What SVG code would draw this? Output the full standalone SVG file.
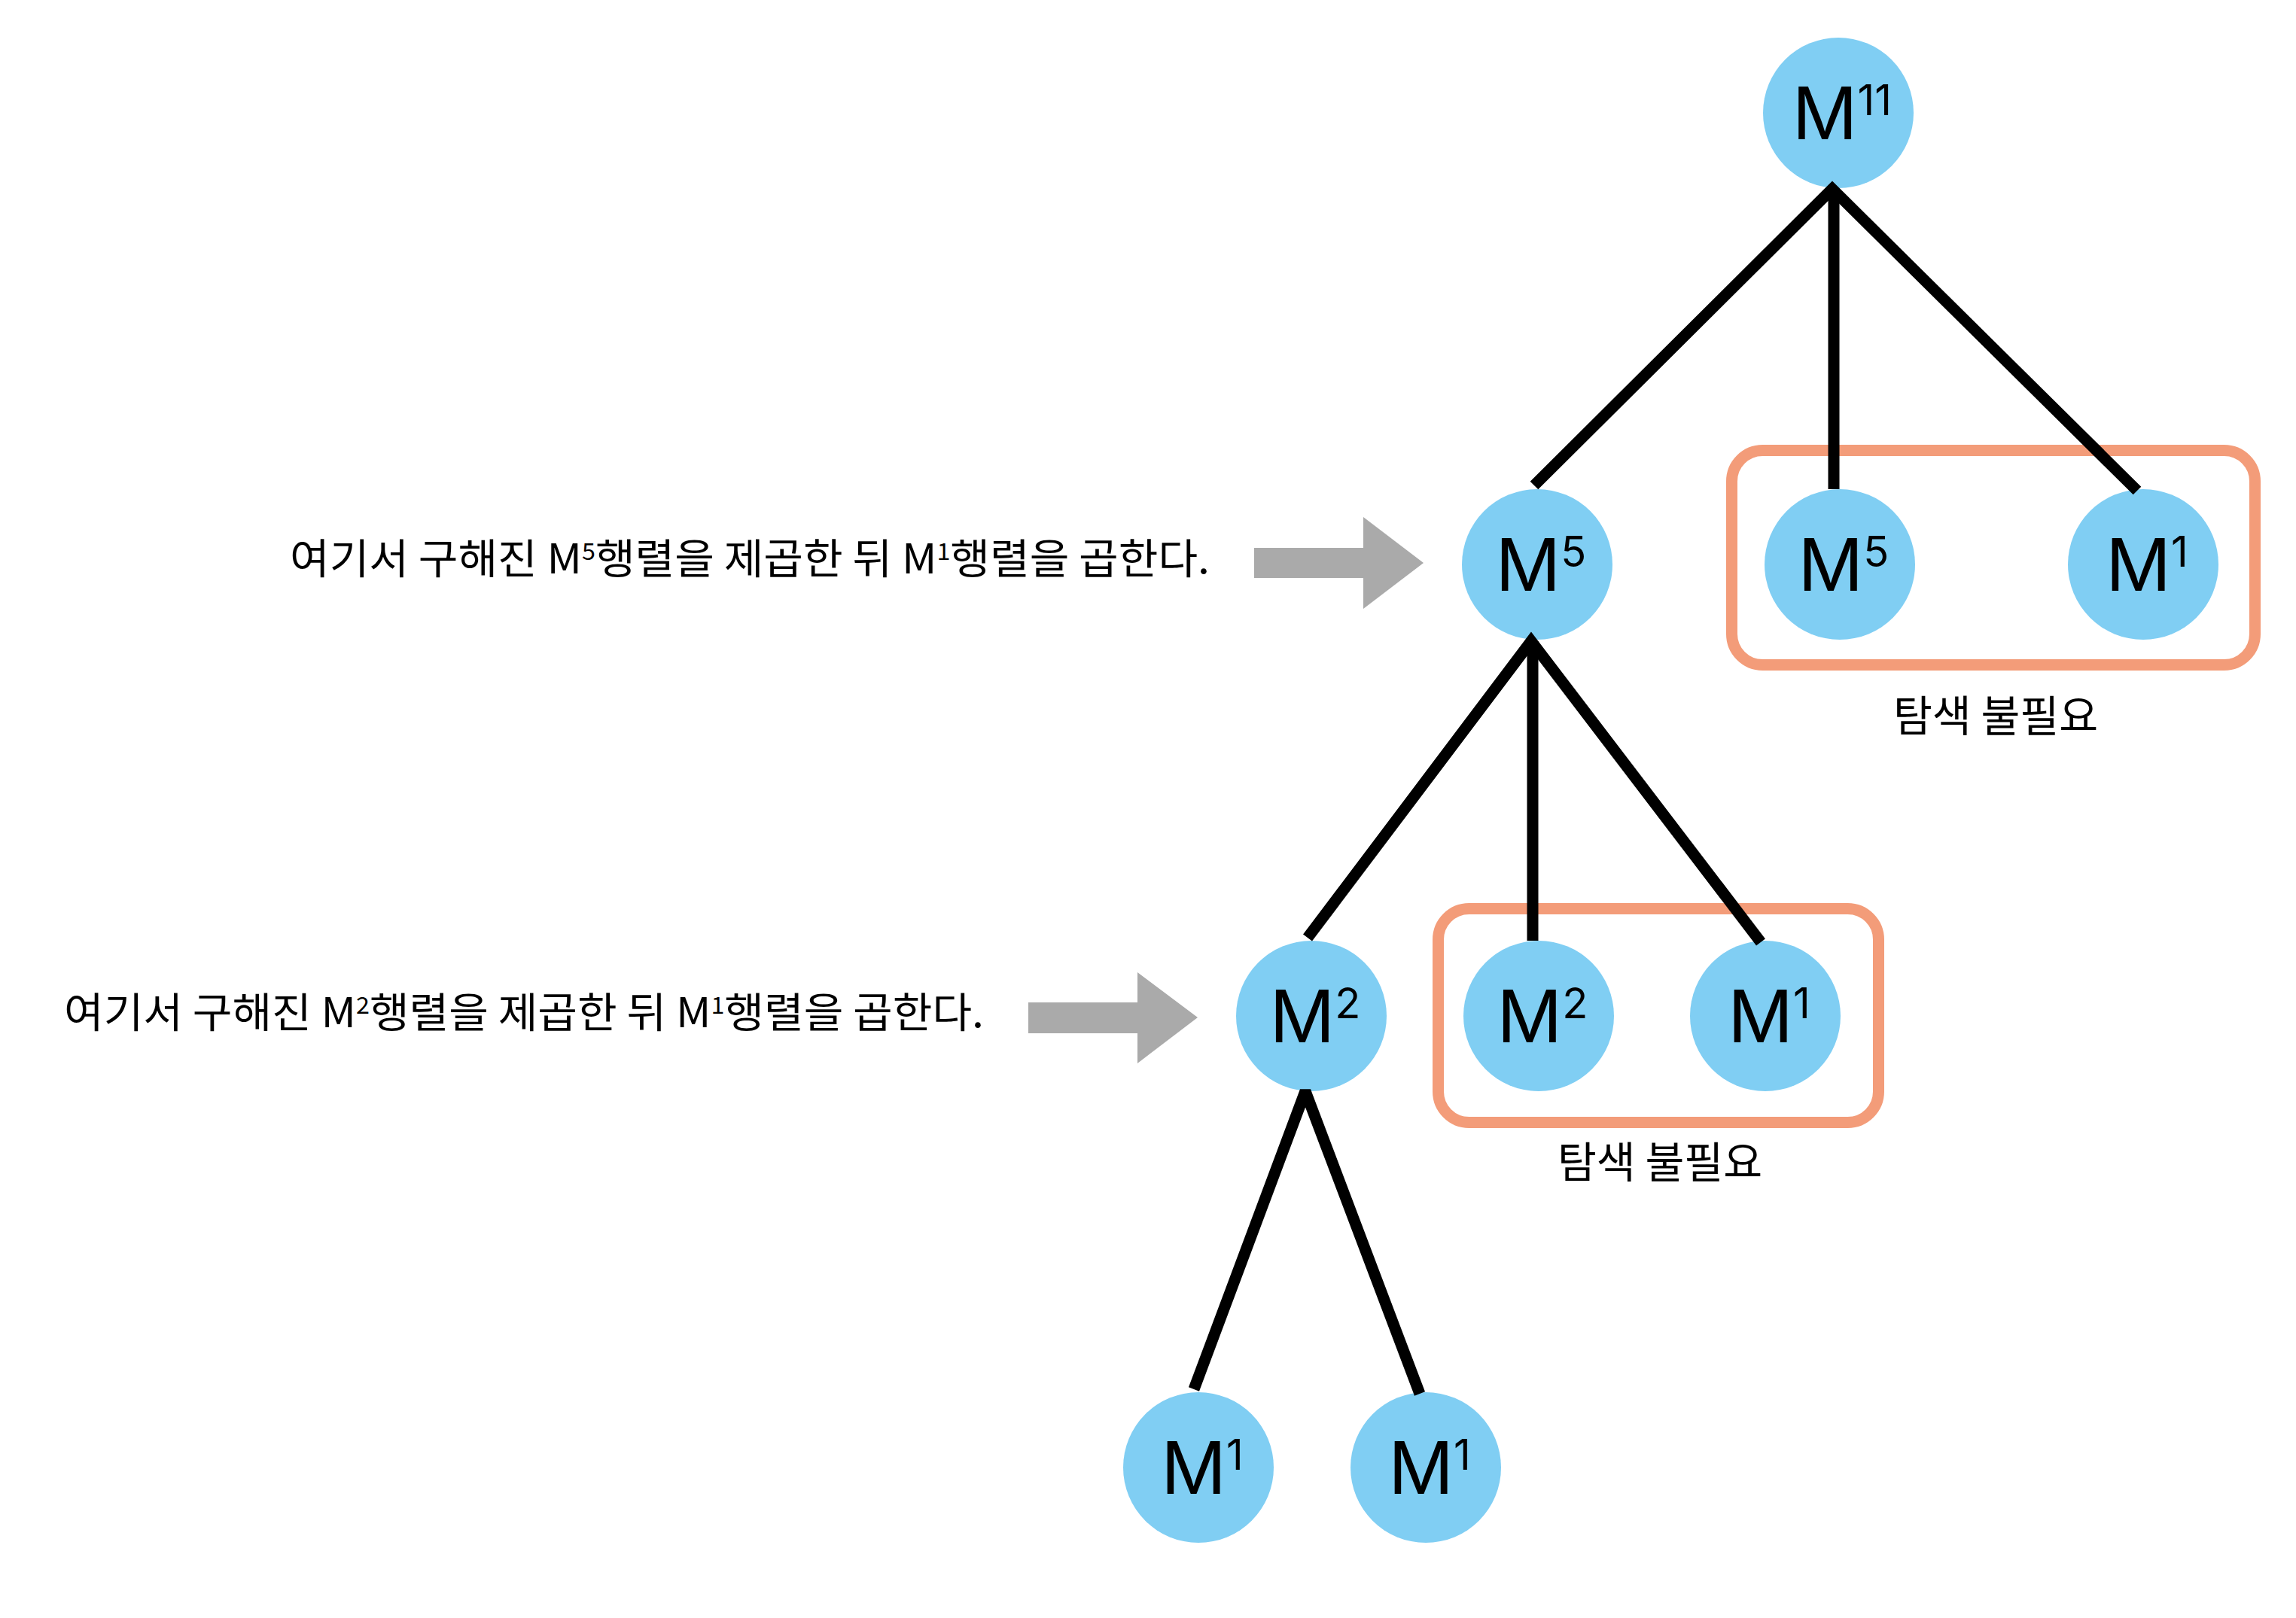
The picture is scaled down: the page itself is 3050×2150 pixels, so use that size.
<svg xmlns="http://www.w3.org/2000/svg" width="3050" height="2150" viewBox="0 0 3050 2150">
<style>
.node{fill:#80CEF3}
.lbl{font-family:Inter,"Liberation Sans",sans-serif;font-size:96px;fill:#000;text-anchor:middle}
.sup{font-size:56px}
.kr{font-family:"Noto Sans CJK KR","Noto Sans",sans-serif;fill:#000}
.note{font-size:55px}
.ksup{font-size:31px}
.box{fill:none;stroke:#F39C79;stroke-width:15}
.edge{fill:none;stroke:#000;stroke-width:15;stroke-linecap:butt}
.arrow{fill:#AAAAAA}
</style>
<rect width="3050" height="2150" fill="#fff"/>
<g id="boxes">
<rect class="box" x="2300.5" y="598.5" width="695" height="285" rx="41"/>
<rect class="box" x="1910.5" y="1207.5" width="585" height="284" rx="41"/>
</g>
<g id="box-labels">
<text class="kr" x="2651" y="972" font-size="57" text-anchor="middle" textLength="272" lengthAdjust="spacingAndGlyphs">탐색 불필요</text>
<text class="kr" x="2205" y="1565" font-size="57" text-anchor="middle" textLength="272" lengthAdjust="spacingAndGlyphs">탐색 불필요</text>
</g>
<g id="notes">
<text class="kr note" x="385" y="762" textLength="1222" lengthAdjust="spacingAndGlyphs">여기서 구해진 M<tspan class="ksup" dy="-18">5</tspan><tspan dy="18">행렬을 제곱한 뒤 M</tspan><tspan class="ksup" dy="-18">1</tspan><tspan dy="18">행렬을 곱한다.</tspan></text>
<text class="kr note" x="85" y="1365" textLength="1222" lengthAdjust="spacingAndGlyphs">여기서 구해진 M<tspan class="ksup" dy="-18">2</tspan><tspan dy="18">행렬을 제곱한 뒤 M</tspan><tspan class="ksup" dy="-18">1</tspan><tspan dy="18">행렬을 곱한다.</tspan></text>
</g>
<g id="arrows">
<polygon class="arrow" points="1666,728 1811,728 1811,687 1891,748 1811,809 1811,768 1666,768"/>
<polygon class="arrow" points="1366,1332 1511,1332 1511,1292 1591,1352 1511,1413 1511,1373 1366,1373"/>
</g>
<g id="n_m11"><circle class="node" cx="2442" cy="150" r="100"/><text class="lbl" x="2447" y="185">M<tspan class="sup" dy="-32">11</tspan></text></g>
<g id="n_m5a"><circle class="node" cx="2042" cy="750" r="100"/><text class="lbl" x="2047" y="785">M<tspan class="sup" dy="-32">5</tspan></text></g>
<g id="n_m5b"><circle class="node" cx="2444" cy="750" r="100"/><text class="lbl" x="2449" y="785">M<tspan class="sup" dy="-32">5</tspan></text></g>
<g id="n_m1a"><circle class="node" cx="2847" cy="750" r="100"/><text class="lbl" x="2852" y="785">M<tspan class="sup" dy="-32">1</tspan></text></g>
<g id="n_m2a"><circle class="node" cx="1742" cy="1350" r="100"/><text class="lbl" x="1747" y="1385">M<tspan class="sup" dy="-32">2</tspan></text></g>
<g id="n_m2b"><circle class="node" cx="2044" cy="1350" r="100"/><text class="lbl" x="2049" y="1385">M<tspan class="sup" dy="-32">2</tspan></text></g>
<g id="n_m1b"><circle class="node" cx="2345" cy="1350" r="100"/><text class="lbl" x="2350" y="1385">M<tspan class="sup" dy="-32">1</tspan></text></g>
<g id="n_m1c"><circle class="node" cx="1592" cy="1950" r="100"/><text class="lbl" x="1597" y="1985">M<tspan class="sup" dy="-32">1</tspan></text></g>
<g id="n_m1d"><circle class="node" cx="1894" cy="1950" r="100"/><text class="lbl" x="1899" y="1985">M<tspan class="sup" dy="-32">1</tspan></text></g>
<g id="connectors">
<path class="edge" d="M2038,645 L2434,251 L2839,652" stroke-linejoin="miter"/>
<line class="edge" x1="2436" y1="251" x2="2436" y2="650"/>
<path class="edge" d="M1737,1246 L2034,852 L2339,1252" stroke-linejoin="miter"/>
<line class="edge" x1="2036" y1="852" x2="2036" y2="1250"/>
<path class="edge" d="M1586,1846 L1734,1450 L1886,1852" stroke-linejoin="bevel"/>
</g>
</svg>
